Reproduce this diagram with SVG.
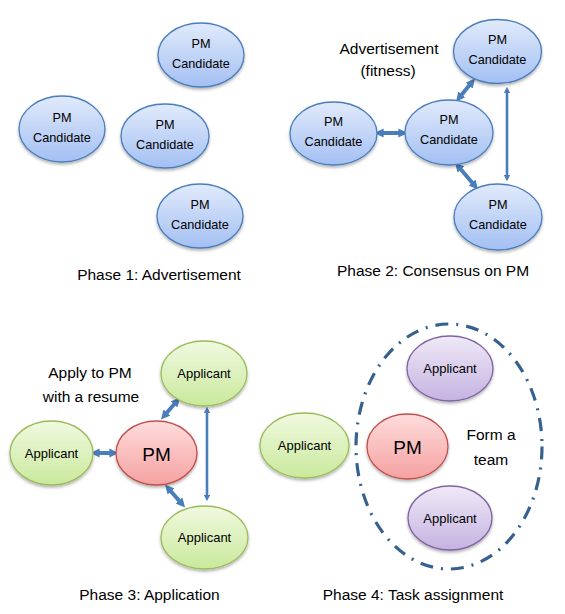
<svg xmlns="http://www.w3.org/2000/svg" width="565" height="614" viewBox="0 0 565 614">
<defs>
<linearGradient id="gBlue" x1="0" y1="0" x2="0" y2="1"><stop offset="0" stop-color="#e1eafb"/><stop offset="1" stop-color="#a3c0f3"/></linearGradient>
<linearGradient id="gGreen" x1="0" y1="0" x2="0" y2="1"><stop offset="0" stop-color="#f1f9e0"/><stop offset="1" stop-color="#c9e99c"/></linearGradient>
<linearGradient id="gRed" x1="0" y1="0" x2="0" y2="1"><stop offset="0" stop-color="#ffdcdc"/><stop offset="1" stop-color="#f5a1a1"/></linearGradient>
<linearGradient id="gPurple" x1="0" y1="0" x2="0" y2="1"><stop offset="0" stop-color="#efe9f7"/><stop offset="1" stop-color="#c5b3e1"/></linearGradient>
<filter id="sh" x="-20%" y="-20%" width="140%" height="150%"><feDropShadow dx="0" dy="2" stdDeviation="1.5" flood-color="#000" flood-opacity="0.3"/></filter>
<marker id="ah" viewBox="0 0 10 10" refX="5" refY="5" markerWidth="2.3" markerHeight="2.3" orient="auto-start-reverse"><path d="M0,0 L10,5 L0,10 Z" fill="#4a7ebb"/></marker>
<marker id="ahs" viewBox="0 0 10 10" refX="5" refY="5" markerWidth="2.5" markerHeight="2.5" orient="auto-start-reverse"><path d="M0,0 L10,5 L0,10 Z" fill="#4a7ebb"/></marker>
</defs>
<style>
.blue{fill:url(#gBlue);stroke:#4a7ebb;stroke-width:1.3;filter:url(#sh)}
.green{fill:url(#gGreen);stroke:#9bbb59;stroke-width:1.3;filter:url(#sh)}
.red{fill:url(#gRed);stroke:#c0504d;stroke-width:1.3;filter:url(#sh)}
.purple{fill:url(#gPurple);stroke:#8064a2;stroke-width:1.3;filter:url(#sh)}
text{font-family:"Liberation Sans",Arial,sans-serif;fill:#000;text-anchor:middle}
.n{font-size:12.7px}
.a{font-size:13px}
.pm{font-size:19px}
.l{font-size:15.5px}
.c{stroke:#4a7ebb;fill:none}
.thick{stroke-width:4;marker-start:url(#ah);marker-end:url(#ah)}
.thin{stroke-width:2.6;marker-start:url(#ahs);marker-end:url(#ahs)}
</style>

<g id="connectors">
<line class="c thick" x1="379" y1="133" x2="403" y2="133"/>
<line class="c thick" x1="459" y1="98" x2="472" y2="82"/>
<line class="c thick" x1="458" y1="166" x2="475" y2="186"/>
<line class="c thin" x1="507" y1="90" x2="507" y2="178"/>
<line class="c thick" x1="95" y1="453" x2="114" y2="453"/>
<line class="c thick" x1="164" y1="416" x2="177" y2="401"/>
<line class="c thick" x1="168" y1="488" x2="182" y2="504"/>
<line class="c thin" x1="207" y1="410" x2="207" y2="498"/>
</g>

<g id="p1n1"><ellipse class="blue" cx="201" cy="55" rx="43" ry="32"/><text class="n" x="201" y="47.5">PM</text><text class="n" x="201" y="67.5">Candidate</text></g>
<g id="p1n2"><ellipse class="blue" cx="62" cy="129" rx="43" ry="33"/><text class="n" x="62" y="121.5">PM</text><text class="n" x="62" y="141.5">Candidate</text></g>
<g id="p1n3"><ellipse class="blue" cx="165" cy="136" rx="44" ry="32"/><text class="n" x="165" y="128.5">PM</text><text class="n" x="165" y="148.5">Candidate</text></g>
<g id="p1n4"><ellipse class="blue" cx="200" cy="216" rx="43" ry="32"/><text class="n" x="200" y="208.5">PM</text><text class="n" x="200" y="228.5">Candidate</text></g>
<text class="l" x="159" y="279.5">Phase 1: Advertisement</text>

<g id="p2n1"><ellipse class="blue" cx="497.5" cy="51.5" rx="44" ry="32"/><text class="n" x="497.5" y="44">PM</text><text class="n" x="497.5" y="64">Candidate</text></g>
<g id="p2n2"><ellipse class="blue" cx="333.5" cy="133.5" rx="43.5" ry="31.5"/><text class="n" x="333.5" y="126">PM</text><text class="n" x="333.5" y="146">Candidate</text></g>
<g id="p2n3"><ellipse class="blue" cx="449" cy="132.5" rx="44" ry="32.5"/><text class="n" x="449" y="124">PM</text><text class="n" x="449" y="144">Candidate</text></g>
<g id="p2n4"><ellipse class="blue" cx="498" cy="217" rx="44" ry="33"/><text class="n" x="498" y="208.5">PM</text><text class="n" x="498" y="228.5">Candidate</text></g>
<text class="l" x="389" y="53.5">Advertisement</text>
<text class="l" x="388" y="75.5">(fitness)</text>
<text class="l" x="433" y="275.5">Phase 2: Consensus on PM</text>

<g id="p3top"><ellipse class="green" cx="204" cy="373.5" rx="43" ry="32.5"/><text class="a" x="204" y="378">Applicant</text></g>
<g id="p3left"><ellipse class="green" cx="51.5" cy="453" rx="41.5" ry="32"/><text class="a" x="51.5" y="457.5">Applicant</text></g>
<g id="p3pm"><ellipse class="red" cx="156.5" cy="453" rx="40.5" ry="32"/><text class="pm" x="156.5" y="460.5">PM</text></g>
<g id="p3bot"><ellipse class="green" cx="204.5" cy="537.5" rx="43.5" ry="31.5"/><text class="a" x="204.5" y="542">Applicant</text></g>
<text class="l" x="90" y="377.5">Apply to PM</text>
<text class="l" x="91" y="401.5">with a resume</text>
<text class="l" x="149.5" y="599.5">Phase 3: Application</text>

<g id="p4team"><ellipse cx="449" cy="446.5" rx="93" ry="122.5" fill="none" stroke="#35608f" stroke-width="3.2" stroke-dasharray="13 8 2 8"/></g>
<g id="p4app"><ellipse class="green" cx="304.5" cy="445.5" rx="44.5" ry="32.5"/><text class="a" x="304.5" y="450">Applicant</text></g>
<g id="p4pm"><ellipse class="red" cx="407.5" cy="446.5" rx="40.5" ry="32.5"/><text class="pm" x="407.5" y="454">PM</text></g>
<g id="p4top"><ellipse class="purple" cx="450" cy="368.5" rx="43" ry="32.5"/><text class="a" x="450" y="373">Applicant</text></g>
<g id="p4bot"><ellipse class="purple" cx="450" cy="518" rx="42" ry="32"/><text class="a" x="450" y="522.5">Applicant</text></g>
<text class="l" x="491" y="439.5">Form a</text>
<text class="l" x="491" y="464.5">team</text>
<text class="l" x="413" y="599.5">Phase 4: Task assignment</text>
</svg>
